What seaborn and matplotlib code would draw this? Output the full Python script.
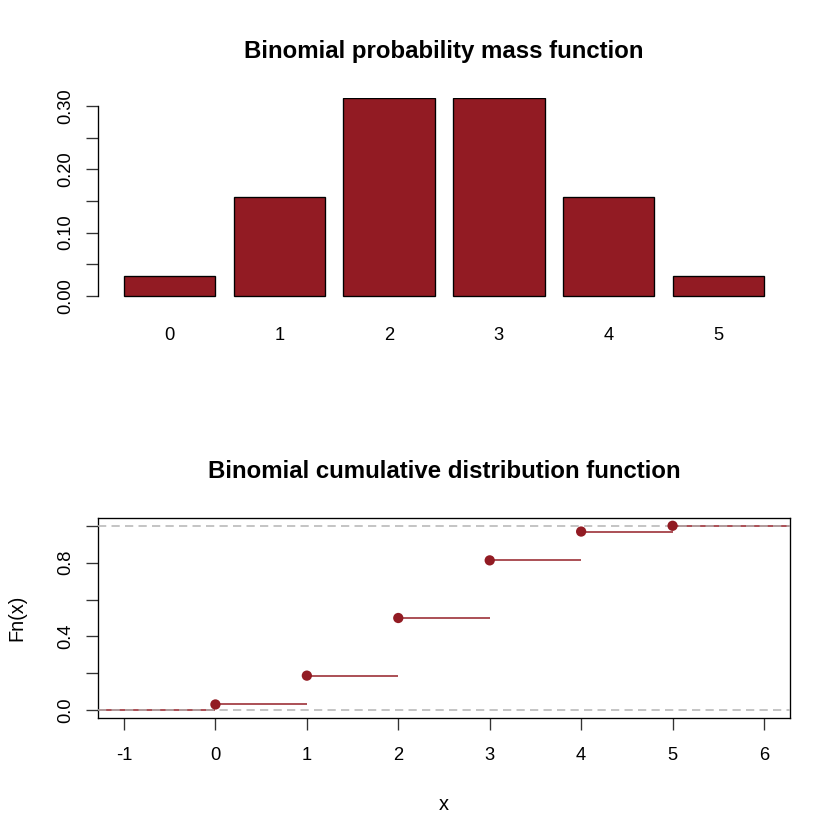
"""Binomial(5, 0.5) PMF bar chart and ECDF step plot, R base-graphics look."""
import matplotlib
matplotlib.use("Agg")
import matplotlib.pyplot as plt
import numpy as np
import pandas as pd
import seaborn as sns

OUT_PNG = "out.png"

# values (binomial n=5, p=0.5)
outcomes = [0, 1, 2, 3, 4, 5]
pmf = [0.03125, 0.15625, 0.3125, 0.3125, 0.15625, 0.03125]
cdf = [0.03125, 0.1875, 0.5, 0.8125, 0.96875, 1.0]

pmf_ticks = [0.0, 0.05, 0.10, 0.15, 0.20, 0.25, 0.30]
pmf_ticklabels = ["0.00", "", "0.10", "", "0.20", "", "0.30"]
cdf_xticks = [-1, 0, 1, 2, 3, 4, 5, 6]
cdf_yticks = [0.0, 0.2, 0.4, 0.6, 0.8, 1.0]
cdf_yticklabels = ["0.0", "", "0.4", "", "0.8", ""]

RED = "#921B23"
GREY = "#B3B3B3"
TICK = 7.2  # tick length, points

sns.set_theme(style="white")
plt.rcParams["font.family"] = ["Liberation Sans", "DejaVu Sans"]
plt.rcParams["font.size"] = 12
plt.rcParams["axes.unicode_minus"] = False
for key in ["text.color", "axes.labelcolor", "xtick.color", "ytick.color"]:
    plt.rcParams[key] = "black"

fig = plt.figure(figsize=(7, 7), dpi=120)
W = 840.0
left, width = 98.4 / W, 691.2 / W
ax1 = fig.add_axes([left, 1 - 297.6 / W, width, 199.2 / W])
ax2 = fig.add_axes([left, 1 - 717.6 / W, width, 199.2 / W])

# --- top: pmf bars
df = pd.DataFrame({"k": [str(k) for k in outcomes], "p": pmf})
sns.barplot(data=df, x="k", y="p", color=RED, saturation=1, width=1 / 1.2,
            edgecolor="black", linewidth=0.8, ax=ax1)
ax1.set_xlim(-0.65, 5.65)
ax1.set_ylim(-0.003, 0.3125)
for s in ["top", "right", "bottom"]:
    ax1.spines[s].set_visible(False)
ax1.spines["left"].set_bounds(0, 0.30)
ax1.spines["left"].set_color("black")
ax1.spines["left"].set_linewidth(0.8)
ax1.set_yticks(pmf_ticks)
ax1.set_yticklabels(pmf_ticklabels, rotation=90, va="center")
ax1.tick_params(axis="y", left=True, length=TICK, width=0.8, color="#333333", pad=7.5)
ax1.tick_params(axis="x", length=0, pad=17.5)
ax1.set_xlabel("")
ax1.set_ylabel("")

# --- bottom: ecdf steps
x_lo, x_hi = -1.28, 6.28
ax2.set_xlim(x_lo, x_hi)
ax2.set_ylim(-0.04, 1.04)
starts = [x_lo] + outcomes
ends = outcomes + [x_hi]
levels = [0.0] + cdf
ax2.hlines(levels, starts, ends, color=RED, linewidth=0.9, zorder=2)
for h in [0, 1]:
    ax2.axhline(h, color=GREY, linewidth=0.9, dashes=(5.5, 3.5), zorder=3)
sns.scatterplot(x=outcomes, y=cdf, color=RED, s=38, edgecolor="none",
                linewidth=0, zorder=4, ax=ax2)
for s in ax2.spines.values():
    s.set_visible(True)
    s.set_color("black")
    s.set_linewidth(0.8)
ax2.set_xticks(cdf_xticks)
ax2.set_yticks(cdf_yticks)
ax2.set_yticklabels(cdf_yticklabels, rotation=90, va="center")
ax2.tick_params(axis="both", bottom=True, left=True, length=TICK, width=0.8,
                color="#333333")
ax2.tick_params(axis="x", pad=10.3)
ax2.tick_params(axis="y", pad=7.5)
ax2.set_xlabel("x")
ax2.set_ylabel("Fn(x)")
ax2.xaxis.set_label_coords(0.5, -(809 - 14.3 - 717.6) / 199.2)
ax2.xaxis.label.set_va("top")
ax2.yaxis.set_label_coords(-(98.4 - 26) / 691.2, 0.5)

# --- titles
cx = left + width / 2
fig.text(cx, 1 - 58 / W, "Binomial probability mass function", ha="center",
         va="baseline", fontsize=14.4, fontweight="bold")
fig.text(cx, 1 - 477.5 / W, "Binomial cumulative distribution function", ha="center",
         va="baseline", fontsize=14.4, fontweight="bold")

fig.savefig(OUT_PNG, dpi=120, facecolor="white")
plt.close(fig)
